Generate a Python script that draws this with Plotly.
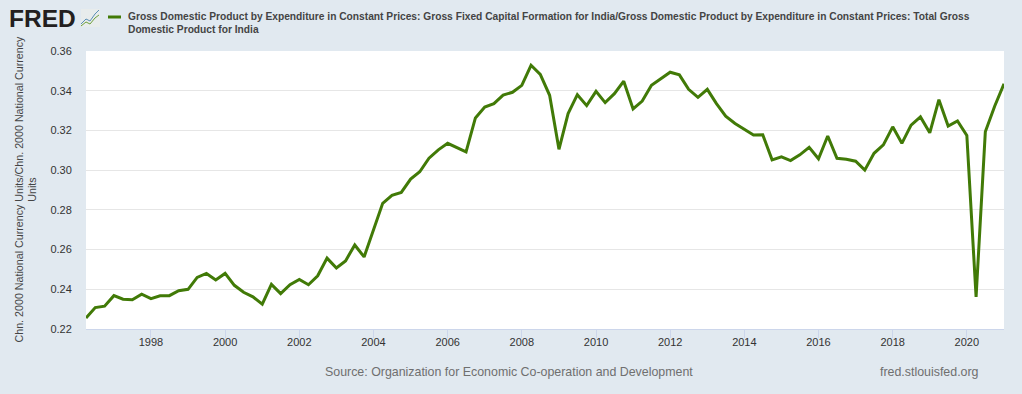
import pandas as pd
import plotly.graph_objects as go

dates = pd.date_range("1996-04-01", "2021-01-01", freq="QS")
ratio = [
    .2255, .2308, .2315, .2368, .2350, .2347, .2375, .2353, .2367, .2368,
    .2393, .2400, .2460, .2480, .2447, .2480, .2420, .2385, .2362, .2325,
    .2425, .2378, .2423, .2450, .2423, .2468, .2557, .2507, .2543, .2623,
    .2563, .2697, .2833, .2873, .2888, .2955, .2992, .3060, .3102, .3135,
    .3113, .3092, .3263, .3318, .3335, .3378, .3392, .3427, .3528, .3482,
    .3377, .3105, .3285, .3380, .3325, .3397, .3340, .3385, .3448, .3308,
    .3348, .3427, .3460, .3493, .3480, .3407, .3367, .3407, .3335, .3272,
    .3235, .3205, .3177, .3178, .3052, .3067, .3048, .3077, .3115, .3057,
    .3172, .3060, .3055, .3045, .3000, .3085, .3127, .3218, .3135, .3227,
    .3268, .3188, .3355, .3222, .3248, .3175, .2362, .3193, .3322, .3435,
]
y_ticks = [0.22, 0.24, 0.26, 0.28, 0.30, 0.32, 0.34, 0.36]
x_tick_years = list(range(1998, 2021, 2))
series_name = ("<b>Gross Domestic Product by Expenditure in Constant Prices: Gross Fixed Capital Formation for India/"
               "Gross Domestic Product by Expenditure in Constant Prices: Total Gross<br>Domestic Product for India</b>")
y_title = "Chn. 2000 National Currency Units/Chn. 2000 National Currency<br>Units"

W, H = 1022, 394
L, R, T, B = 86, 1004, 51, 329
GREEN = "#417a07"
TEXT = "#333333"
FONT = "Liberation Sans, Arial, sans-serif"

def px(x): return (x - L) / (R - L)
def py(y): return (B - y) / (B - T)

fig = go.Figure(go.Scatter(x=dates, y=ratio, mode="lines", line=dict(color=GREEN, width=3),
                           showlegend=False, hoverinfo="x+y"))

annotations = [
    dict(x=px(126.5), y=py(23.5), text=series_name, showarrow=False, xanchor="left", yanchor="middle", align="left",
         font=dict(size=10.23, color="#444444", family=FONT)),
    dict(x=px(8), y=py(18), text="<b>FRED</b>", showarrow=False, xanchor="left", yanchor="middle",
         font=dict(size=24.5, color="#231f20", family=FONT)),
    dict(x=px(25), y=py(189.5), text=y_title, showarrow=False, textangle=-90, xanchor="center", yanchor="middle",
         font=dict(size=10.7, color="#444444", family=FONT)),
    dict(x=px(509), y=py(372), text="Source: Organization for Economic Co-operation and Development", showarrow=False,
         xanchor="center", yanchor="middle", font=dict(size=12.4, color="#6f6f6f", family=FONT)),
    dict(x=px(980), y=py(372), text="fred.stlouisfed.org", showarrow=False, xanchor="right", yanchor="middle",
         font=dict(size=12.4, color="#6f6f6f", family=FONT)),
]
for a in annotations:
    a.update(xref="paper", yref="paper", borderpad=0)

def seg(x0, y0, x1, y1, color, width):
    return dict(type="line", xref="paper", yref="paper", x0=px(x0), y0=py(y0), x1=px(x1), y1=py(y1),
                line=dict(color=color, width=width), layer="above")

def path(points, color, width):
    d = "M " + " L ".join(f"{px(a):.5f},{py(b):.5f}" for a, b in points)
    return dict(type="path", xref="paper", yref="paper", path=d, line=dict(color=color, width=width), layer="above")

shapes = [
    seg(108, 17, 121, 17, GREEN, 3),
    dict(type="rect", xref="paper", yref="paper", x0=px(81), y0=py(9), x1=px(100), y1=py(27),
         fillcolor="#e8ecec", line=dict(width=0), layer="above"),
    path([(81, 24), (86, 19), (90, 21), (95, 14), (99, 10)], "#5b8fb5", 1),
    path([(81, 26), (86, 22), (90, 24), (95, 18), (99, 15)], "#6fa03c", 1),
]

fig.update_layout(
    width=W, height=H, autosize=False,
    margin=dict(l=L, r=W - R, t=T, b=H - B, pad=0),
    paper_bgcolor="#e1e9f0", plot_bgcolor="#ffffff",
    font=dict(family=FONT, size=11, color=TEXT),
    annotations=annotations, shapes=shapes,
    xaxis=dict(range=["1996-04-01", "2021-01-01"], type="date",
               tickvals=[f"{y}-01-01" for y in x_tick_years], ticktext=[str(y) for y in x_tick_years],
               showgrid=False, ticks="outside", ticklen=8, tickwidth=1, tickcolor="#ccd6eb",
               ticklabelstandoff=-5,
               showline=True, linecolor="#ccd6eb", linewidth=1, zeroline=False,
               tickfont=dict(size=11, color=TEXT, family=FONT)),
    yaxis=dict(range=[0.22, 0.36], tickvals=y_ticks, ticktext=[f"{v:.2f}" for v in y_ticks],
               showgrid=True, gridcolor="#e6e6e6", gridwidth=1, ticks="outside", ticklen=11,
               tickcolor="rgba(0,0,0,0)", showline=False, zeroline=False,
               tickfont=dict(size=11, color=TEXT, family=FONT)),
)
fig.write_html("out.html", config=dict(displayModeBar=False),
               post_script="document.body.style.margin='0';")
